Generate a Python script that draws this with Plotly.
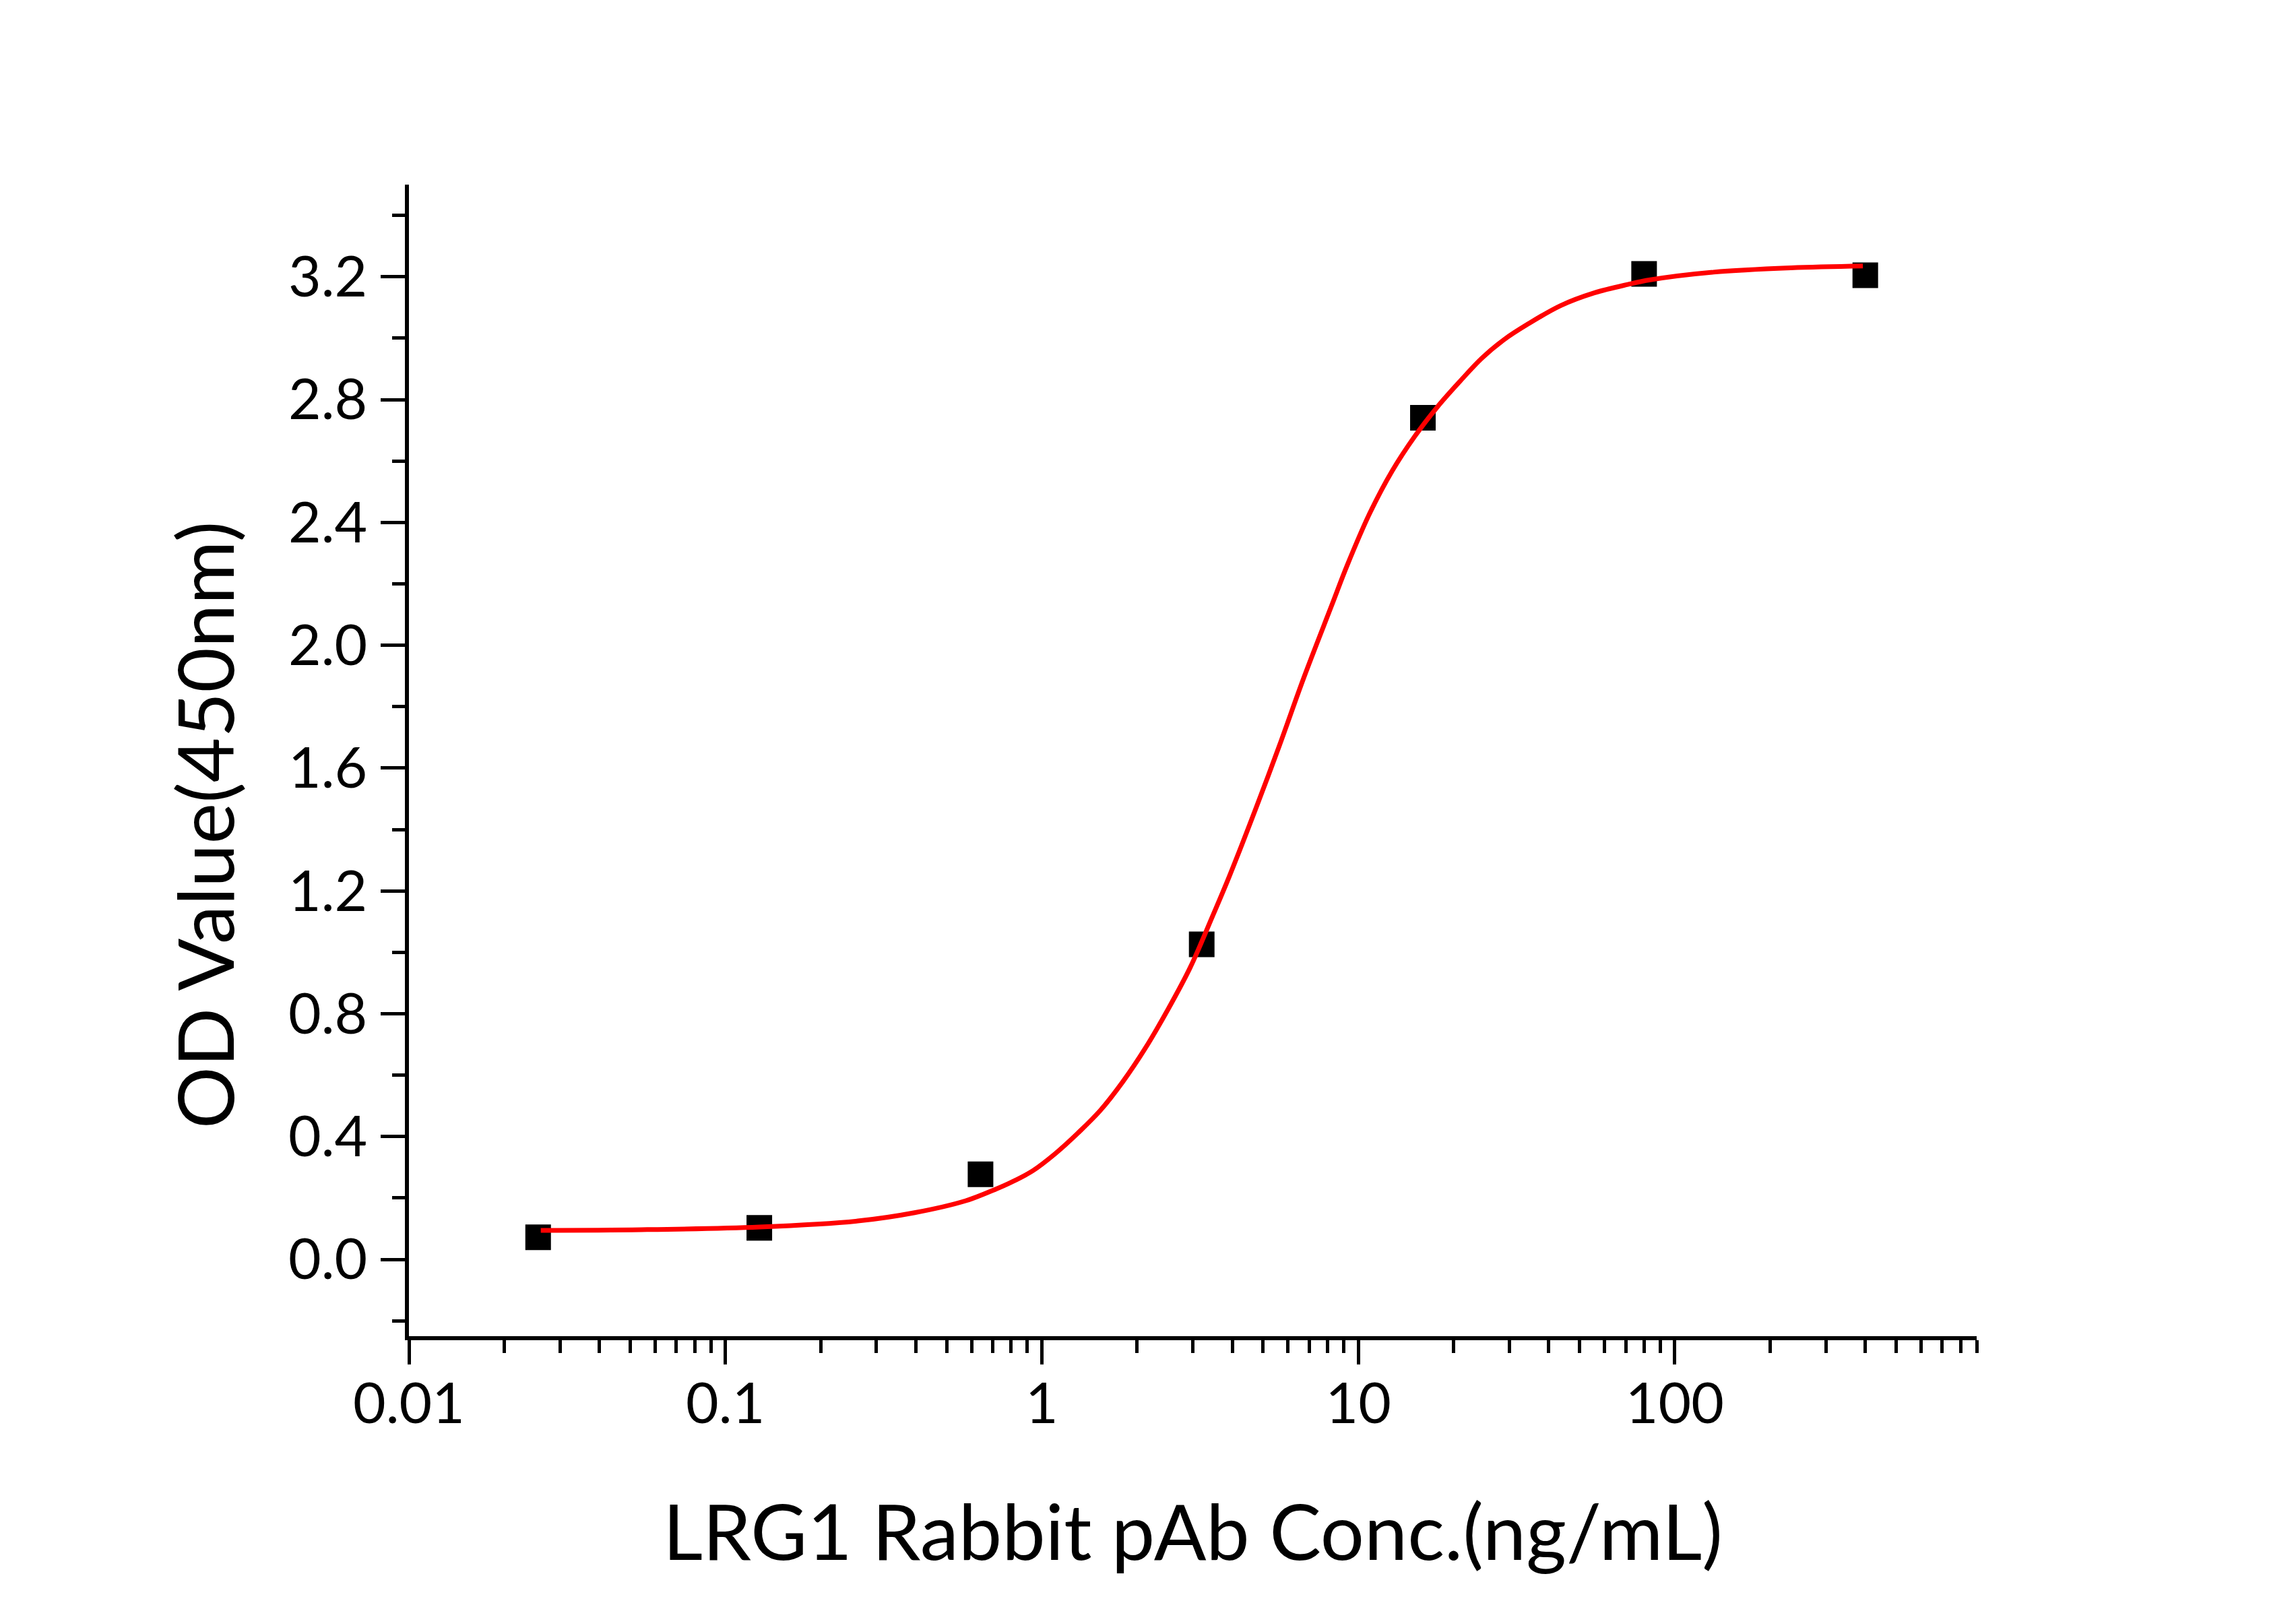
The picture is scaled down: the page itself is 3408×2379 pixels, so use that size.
import plotly.graph_objects as go

# Measured data points (concentration in ng/mL, OD at 450 nm)
conc = [0.0256, 0.128, 0.64, 3.2, 16, 80, 400]
od = [0.072, 0.103, 0.277, 1.026, 2.741, 3.209, 3.205]

# Fitted curve
curve_x = [0.0261, 0.0542, 0.128, 0.262, 0.396, 0.575, 0.72, 0.796, 0.937, 1.104,
           1.299, 1.530, 1.801, 2.121, 2.497, 2.941, 3.463, 3.914, 4.75, 5.64,
           6.73, 8.234, 9.23, 10.86, 12.80, 15.07, 17.74, 20.89, 24.58, 28.94,
           34.11, 43.57, 55.67, 71.12, 83.73, 132.7, 233, 393]
curve_y = [0.0945, 0.0967, 0.1055, 0.125, 0.152, 0.191, 0.230, 0.250, 0.289, 0.345,
           0.411, 0.485, 0.578, 0.687, 0.812, 0.950, 1.118, 1.248, 1.47, 1.675,
           1.895, 2.129, 2.261, 2.429, 2.568, 2.680, 2.775, 2.858, 2.935, 2.996,
           3.044, 3.106, 3.1475, 3.175, 3.190, 3.215, 3.229, 3.235]

x_major = [0.01, 0.1, 1, 10, 100]
x_major_labels = ["0.01", "0.1", "1", "10", "100"]
x_minor = [m * d for d in [0.01, 0.1, 1, 10, 100] for m in range(2, 10)]
y_major = [0.0, 0.4, 0.8, 1.2, 1.6, 2.0, 2.4, 2.8, 3.2]
y_minor = [-0.2, 0.2, 0.6, 1.0, 1.4, 1.8, 2.2, 2.6, 3.0, 3.4]

x_title = "LRG1 Rabbit pAb Conc.(ng/mL)"
y_title = "OD Value(450nm)"

FONT = "Lato"

fig = go.Figure()
fig.add_trace(go.Scatter(
    x=conc, y=od, mode="markers",
    marker=dict(symbol="square", size=38, color="black", line=dict(width=0)),
    showlegend=False, hoverinfo="skip"))
fig.add_trace(go.Scatter(
    x=curve_x, y=curve_y, mode="lines",
    line=dict(color="#ff0000", width=7, shape="spline", smoothing=1.0),
    showlegend=False, hoverinfo="skip"))

fig.update_layout(
    width=3400, height=2371, autosize=False,
    paper_bgcolor="white", plot_bgcolor="white",
    margin=dict(l=599, r=474, t=266, b=396, pad=0),
    font=dict(family=FONT, color="black"),
    showlegend=False,
    xaxis=dict(
        type="log", range=[-2, 2.954],
        showgrid=False, zeroline=False,
        showline=True, linecolor="black", linewidth=6, mirror=False,
        tickmode="array", tickvals=x_major, ticktext=x_major_labels,
        ticks="outside", ticklen=36, tickwidth=5, tickcolor="black",
        tickfont=dict(family=FONT, size=84, color="black"),
        ticklabelstandoff=-14,
        minor=dict(tickmode="array", tickvals=x_minor, ticks="outside",
                   ticklen=19, tickwidth=5, tickcolor="black", showgrid=False),
    ),
    yaxis=dict(
        range=[-0.25, 3.5],
        showgrid=False, zeroline=False,
        showline=True, linecolor="black", linewidth=6, mirror=False,
        tickmode="array", tickvals=y_major, tickformat=".1f",
        ticks="outside", ticklen=36, tickwidth=5, tickcolor="black",
        tickfont=dict(family=FONT, size=84, color="black"),
        ticklabelstandoff=3,
        minor=dict(tickmode="array", tickvals=y_minor, ticks="outside",
                   ticklen=19, tickwidth=5, tickcolor="black", showgrid=False),
    ),
    annotations=[
        dict(text=x_title, xref="paper", yref="paper", x=0.5, y=-0.168,
             xanchor="center", yanchor="middle", showarrow=False,
             font=dict(family=FONT, size=115, color="black")),
        dict(text=y_title, xref="paper", yref="paper", x=-0.131, y=0.4441,
             xanchor="center", yanchor="middle", showarrow=False, textangle=-90,
             font=dict(family=FONT, size=115, color="black")),
    ],
)

fig.write_html("out.html")
